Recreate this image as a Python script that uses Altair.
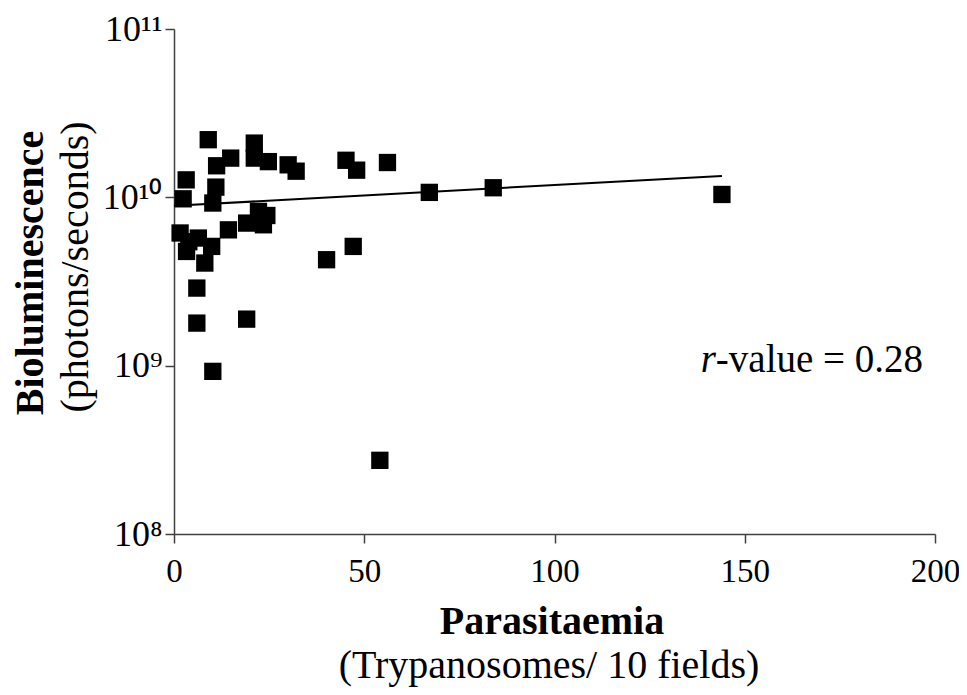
import altair as alt
import pandas as pd

# ---- data ----
parasitaemia = [9.0, 21.1, 14.9, 11.2, 21.1, 24.8, 30.0, 32.1, 3.2, 11.0,
                2.4, 10.2, 22.2, 24.4, 14.3, 19.1, 23.5, 1.6, 6.4, 3.9,
                3.3, 9.9, 8.1, 6.0, 6.0, 19.1, 10.2, 45.2, 48.0, 56.1,
                67.1, 83.9, 40.1, 47.1, 54.1, 144.0]
bioluminescence = [2.2e10, 2.1e10, 1.71e10, 1.54e10, 1.71e10, 1.63e10, 1.56e10, 1.43e10, 1.27e10, 1.15e10,
                   9.8e9, 9.25e9, 8.25e9, 7.8e9, 6.41e9, 7.03e9, 6.87e9, 6.14e9, 5.73e9, 5.45e9,
                   4.77e9, 5.11e9, 4.07e9, 2.89e9, 1.79e9, 1.89e9, 9.25e8, 1.66e10, 1.45e10, 1.61e10,
                   1.07e10, 1.14e10, 4.26e9, 5.11e9, 2.74e8, 1.04e10]
trend_x = [0, 144]
trend_y = [8.9e9, 1.34e10]
x_ticks = [0, 50, 100, 150, 200]
y_ticks = [1e8, 1e9, 1e10, 1e11]
x_title = ["Parasitaemia", "(Trypanosomes/ 10 fields)"]
y_title = ["Bioluminescence", "(photons/seconds)"]
r_label = ["r", "-value = 0.28"]
r_pos = [142.4, 9.2e8]

W, H = 761, 505
FONT = "Liberation Serif"

pts = pd.DataFrame({"x": parasitaemia, "y": bioluminescence})
trend = pd.DataFrame({"x": trend_x, "y": trend_y})

xs = alt.Scale(domain=[0, 200], nice=False, zero=False)
ys = alt.Scale(type="log", domain=[1e8, 1e11], nice=False)

xaxis = alt.Axis(values=x_ticks, title=None, grid=False, tickSize=9, labelPadding=12,
                 labelFont=FONT, labelFontSize=33, labelColor="black",
                 domainColor="#404040", tickColor="#404040", domainWidth=1.5, tickWidth=1.5,
                 labelFlush=False, labelOverlap=False)
yaxis = alt.Axis(values=y_ticks, title=None, grid=False, tickSize=9, labelPadding=3,
                 labelExpr="datum.value > 5e10 ? '10¹¹' : datum.value > 5e9 ? '10¹⁰' : datum.value > 5e8 ? '10⁹' : '10⁸'",
                 labelFont=FONT, labelFontSize=36, labelColor="black",
                 domainColor="#404040", tickColor="#404040", domainWidth=1.5, tickWidth=1.5,
                 labelFlush=False, labelOverlap=False)

points = alt.Chart(pts).mark_square(size=300, color="black", opacity=1, filled=True).encode(
    x=alt.X("x:Q", scale=xs, axis=xaxis),
    y=alt.Y("y:Q", scale=ys, axis=yaxis),
)

line = alt.Chart(trend).mark_line(color="black", strokeWidth=2).encode(
    x=alt.X("x:Q", scale=xs),
    y=alt.Y("y:Q", scale=ys),
)

rdf = pd.DataFrame({"x": [r_pos[0]], "y": [r_pos[1]], "a": [r_label[0]], "b": [r_label[1]]})
r_italic = alt.Chart(rdf).mark_text(font=FONT, fontSize=39, fontStyle="italic", align="right",
                                    baseline="alphabetic", color="black").encode(
    x=alt.X("x:Q", scale=xs), y=alt.Y("y:Q", scale=ys), text="a:N")
r_rest = alt.Chart(rdf).mark_text(font=FONT, fontSize=39, align="left",
                                  baseline="alphabetic", color="black").encode(
    x=alt.X("x:Q", scale=xs), y=alt.Y("y:Q", scale=ys), text="b:N")

def label(txt, x, y, bold=False, angle=0):
    kw = dict(font=FONT, fontSize=40, align="center", baseline="alphabetic", color="black")
    if bold:
        kw["fontWeight"] = "bold"
    if angle:
        kw["angle"] = angle
    return alt.Chart(pd.DataFrame({"t": [txt]})).mark_text(**kw).encode(
        x=alt.value(x), y=alt.value(y), text="t:N")

xt1 = label(x_title[0], 378, 605, bold=True)
xt2 = label(x_title[1], 375, 649)
yt1 = label(y_title[0], -131, 244, bold=True, angle=270)
yt2 = label(y_title[1], -86, 238, angle=270)

chart = alt.layer(points, line, r_italic, r_rest, xt1, xt2, yt1, yt2).properties(
    width=W, height=H,
    autosize=alt.AutoSizeParams(type="none"),
    padding={"left": 166, "top": 21, "right": 24, "bottom": 153},
    background="white",
).configure_view(stroke=None)

chart.save("out.html", embed_options={"renderer": "svg", "actions": False})
